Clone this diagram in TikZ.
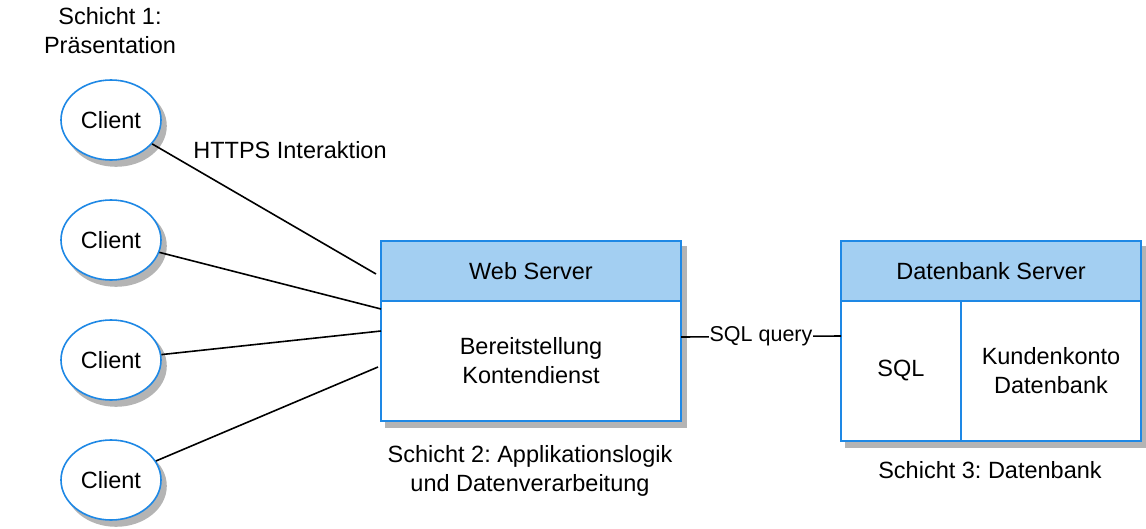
\documentclass[tikz,border=0pt]{standalone}
\usepackage{fontspec}
\setmainfont{Liberation Sans}
\frenchspacing
\usetikzlibrary{shapes,positioning}
\definecolor{boxblue}{RGB}{30,136,229}
\definecolor{headblue}{RGB}{163,207,242}
\definecolor{shadowgray}{RGB}{180,180,180}
\tikzset{
client/.style={ellipse,draw=boxblue,line width=1.6pt,fill=white,minimum width=100pt,minimum height=80pt,inner sep=0pt},
head/.style={rectangle,draw=boxblue,line width=1.6pt,fill=headblue,minimum width=300pt,minimum height=60pt,inner sep=0pt},
cell/.style={rectangle,draw=boxblue,line width=1.6pt,fill=white,inner sep=0pt,align=center},
txt/.style={align=center,inner sep=0pt},
link/.style={line width=1.6pt,black},
shadowed/.style={fill=shadowgray,draw=shadowgray,line width=1.6pt}
}
\begin{document}
\begin{tikzpicture}[x=1pt,y=-1pt,font=\fontsize{23.5}{29}\selectfont]
\useasboundingbox (0,0) rectangle (1146,528);
% Schatten
\foreach \y in {120,240,360,480}
\filldraw[shadowed] (116,\y+6) ellipse [x radius=50pt,y radius=40pt];
\filldraw[shadowed] (386,247) rectangle (686,427);
\filldraw[shadowed] (846,247) rectangle (1146,447);
% Schicht 1
\node[txt] (s1) at (110,31) {Schicht 1:\\Präsentation};
\foreach \i/\y in {1/120,2/240,3/360,4/480}
\node[client] (client\i) at (111,\y) {Client};
% Schicht 2
\node[head] (wshead) at (531,271) {Web Server};
\node[cell,minimum width=300pt,minimum height=120pt] (wsbody) at (531,361) {Bereitstellung\\Kontendienst};
\node[txt] (s2) at (530,471) {Schicht 2: Applikationslogik\\und Datenverarbeitung};
% Schicht 3
\node[head] (dbhead) at (991,271) {Datenbank Server};
\node[cell,minimum width=120pt,minimum height=140pt] (sql) at (901,371) {SQL};
\node[cell,minimum width=180pt,minimum height=140pt] (konto) at (1051,371) {Kundenkonto\\Datenbank};
\node[txt] (s3) at (990,470) {Schicht 3: Datenbank};
% Verbindungen
\coordinate (in1) at (376,274);
\coordinate (in2) at (381,309);
\coordinate (in3) at (381,331);
\coordinate (in4) at (378,367);
\coordinate (q1) at (681,337);
\coordinate (q2) at (841,336);
\foreach \i in {1,...,4}
\draw[link] (client\i) -- (in\i);
\node[txt] (https) at (290,150) {HTTPS Interaktion};
\draw[link] (q1) -- (q2) node[midway,fill=white,inner sep=1pt,font=\fontsize{21.5}{26}\selectfont] (query) {SQL query};
\end{tikzpicture}
\end{document}
